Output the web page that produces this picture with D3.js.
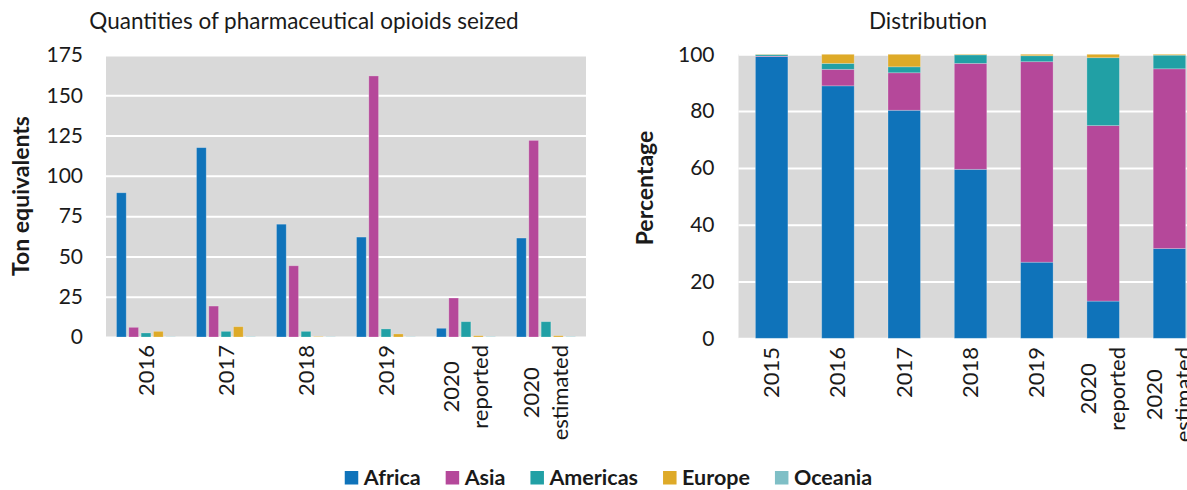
<!DOCTYPE html>
<meta charset="utf-8">
<script src="https://d3js.org/d3.v7.min.js"></script>
<style>
body { margin: 0; background: #fff; }
svg text { font-family: Lato, "Open Sans", sans-serif; fill: #1a1a1a; }
.axis .domain { display: none; }
.axis line { stroke: #fff; stroke-width: 2; }
.axis text { font-size: 21px; }
</style>
<body>
<div id="chart"></div>
<script>
// data
var regions = ["Africa", "Asia", "Americas", "Europe", "Oceania"];
var regionColors = ["#0f73ba", "#b5489a", "#21a0a5", "#deaa28", "#7fbfc6"];

var seizedYears = [["2016"], ["2017"], ["2018"], ["2019"], ["2020", "reported"], ["2020", "estimated"]];
var seizedAfrica   = [89.5, 117.5, 70, 62, 5.4, 61.4];
var seizedAsia     = [6, 19.2, 44.2, 162, 24.2, 122];
var seizedAmericas = [2.5, 3.5, 3.5, 5, 9.5, 9.5];
var seizedEurope   = [3.5, 6.4, 0.3, 1.9, 0.8, 0.8];
var seizedOceania  = [0.2, 0.3, 0.2, 0.2, 0.3, 0.3];
var seizedTicks = [0, 25, 50, 75, 100, 125, 150, 175];

var distYears = [["2015"], ["2016"], ["2017"], ["2018"], ["2019"], ["2020", "reported"], ["2020", "estimated"]];
var distAfrica   = [99.2, 88.9, 80.3, 59.5, 26.8, 13.1, 31.6];
var distAsia     = [0.2, 5.8, 13.2, 37.3, 70.6, 61.8, 63.3];
var distAmericas = [0.5, 2.1, 2.1, 3.0, 2.1, 23.9, 4.8];
var distEurope   = [0.1, 3.2, 4.4, 0.2, 0.5, 1.2, 0.3];
var distOceania  = [0, 0, 0, 0, 0, 0, 0];
var distTicks = [0, 20, 40, 60, 80, 100];

var width = 1187, height = 490;

var svg = d3.select("#chart").append("svg")
	.attr("width", width)
	.attr("height", height);

// ---------- left: grouped bars ----------
var seizedSeries = [seizedAfrica, seizedAsia, seizedAmericas, seizedEurope, seizedOceania];

var xL = d3.scaleBand().domain(d3.range(seizedYears.length)).range([106, 586]);
var xInner = d3.scaleBand().domain(d3.range(regions.length))
	.range([10.5, xL.bandwidth() - 10.5]).paddingInner(0.21);
var yL = d3.scaleLinear().domain([0, 175]).range([337, 55]);

svg.append("rect")
	.attr("x", 106).attr("y", yL(175))
	.attr("width", 480).attr("height", yL(0) - yL(175))
	.attr("fill", "#d9d9d9");

svg.append("g")
	.attr("class", "axis")
	.attr("transform", "translate(106,0)")
	.call(d3.axisLeft(yL).tickValues(seizedTicks).tickSize(-480).tickPadding(23));

var gLeft = svg.append("g");
seizedSeries.forEach(function(vals, r) {
	gLeft.selectAll(null)
		.data(vals)
		.enter()
		.append("rect")
		.attr("x", function(d, i) { return xL(i) + xInner(r); })
		.attr("y", function(d) { return yL(d); })
		.attr("width", xInner.bandwidth())
		.attr("height", function(d) { return yL(0) - yL(d); })
		.attr("fill", regionColors[r])
		.attr("stroke", "rgba(255,255,255,0.3)")
		.attr("stroke-width", 0.8);
});

svg.append("text")
	.attr("x", 304).attr("y", 29)
	.attr("text-anchor", "middle")
	.style("font-size", "22.5px")
	.text("Quantities of pharmaceutical opioids seized");

svg.append("text")
	.attr("transform", "translate(29,196) rotate(-90)")
	.attr("text-anchor", "middle")
	.style("font-size", "23px")
	.style("font-weight", "bold")
	.text("Ton equivalents");

// ---------- right: stacked percentages ----------
var distSeries = [distAfrica, distAsia, distAmericas, distEurope, distOceania];

var xR = d3.scaleBand().domain(d3.range(distYears.length))
	.range([738.5, 738.5 + 66.3 * 7]).paddingInner(0.51).paddingOuter(0.255);
var yR = d3.scaleLinear().domain([0, 100]).range([338.3, 54.3]);

svg.append("rect")
	.attr("x", 738.5).attr("y", yR(100))
	.attr("width", width - 738.5).attr("height", yR(0) - yR(100))
	.attr("fill", "#d9d9d9");

svg.append("g")
	.attr("class", "axis")
	.attr("transform", "translate(738.5,0)")
	.call(d3.axisLeft(yR).tickValues(distTicks).tickSize(-(width - 738.5)).tickPadding(24));

var stackRows = distYears.map(function(y, i) {
	var row = {};
	regions.forEach(function(r, k) { row[r] = distSeries[k][i]; });
	return row;
});
var stacked = d3.stack().keys(regions)(stackRows);

var gRight = svg.append("g");
stacked.forEach(function(layer, r) {
	gRight.selectAll(null)
		.data(layer)
		.enter()
		.append("rect")
		.attr("x", function(d, i) { return xR(i); })
		.attr("y", function(d) { return yR(d[1]); })
		.attr("width", xR.bandwidth())
		.attr("height", function(d) { return yR(d[0]) - yR(d[1]); })
		.attr("fill", regionColors[r])
		.attr("stroke", "rgba(255,255,255,0.3)")
		.attr("stroke-width", 0.8);
});

svg.append("text")
	.attr("x", 928).attr("y", 29)
	.attr("text-anchor", "middle")
	.style("font-size", "22.5px")
	.text("Distribution");

svg.append("text")
	.attr("transform", "translate(653,188) rotate(-90)")
	.attr("text-anchor", "middle")
	.style("font-size", "23px")
	.style("font-weight", "bold")
	.text("Percentage");

// ---------- rotated category labels ----------
function categoryLabels(cats, xScale, top) {
	cats.forEach(function(lines, i) {
		var cx = xScale(i) + xScale.bandwidth() / 2;
		var g = svg.append("g");
		var t = g.append("text")
			.attr("text-anchor", "middle")
			.style("font-size", "22px");
		lines.forEach(function(line, k) {
			t.append("tspan")
				.attr("x", 0)
				.attr("y", (k - (lines.length - 1) / 2) * 29 + 7.5)
				.text(line);
		});
		var longest = d3.max(t.selectAll("tspan").nodes(), function(n) { return n.getComputedTextLength(); });
		g.attr("transform", "translate(" + cx + "," + (top + longest / 2) + ") rotate(-90)");
	});
}
categoryLabels(seizedYears, xL, 345);
categoryLabels(distYears, xR, 347);

// ---------- legend ----------
var legend = svg.append("g");
var lx = 0;
regions.forEach(function(r, i) {
	var item = legend.append("g").attr("transform", "translate(" + lx + ",0)");
	item.append("rect")
		.attr("x", 0).attr("y", 471)
		.attr("width", 13.5).attr("height", 13.5)
		.attr("fill", regionColors[i]);
	var t = item.append("text")
		.attr("x", 19).attr("y", 485)
		.style("font-size", "21.5px")
		.style("font-weight", "bold")
		.text(r);
	lx += 19 + t.node().getComputedTextLength() + 25;
});
legend.attr("transform", "translate(" + (608.5 - (lx - 25) / 2) + ",0)");
</script>
</body>
